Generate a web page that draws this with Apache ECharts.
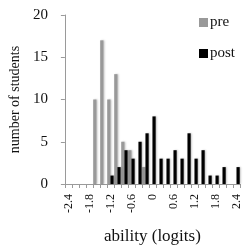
<!DOCTYPE html>
<html>
<head>
<meta charset="utf-8">
<script src="https://cdn.jsdelivr.net/npm/echarts@6/dist/echarts.min.js"></script>
<style>
html,body{margin:0;padding:0;background:#fff;}
#c{width:250px;height:250px;}
</style>
</head>
<body>
<div id="c"></div>
<script>
var categories = ['-2.4','-2.2','-2.0','-1.8','-1.6','-1.4','-1.2','-1.0','-0.8','-0.6','-0.4','-0.2','0','0.2','0.4','0.6','0.8','1.0','1.2','1.4','1.6','1.8','2.0','2.2','2.4'];
var tickLabels = ['-2.4','-1.8','-1.2','-0.6','0','0.6','1.2','1.8','2.4'];
var preValues  = [0,0,0,0,10,17,10,13,5,4,0,2,0,0,0,0,0,0,0,0,0,0,0,0,0];
var postValues = [0,0,0,0,0,0,1,2,4,3,5,6,8,3,3,4,3,6,3,4,1,1,2,0,2];
var seriesNames = ['pre','post'];

var font = 'Liberation Serif';
var chart = echarts.init(document.getElementById('c'), null, {renderer:'canvas'});
chart.setOption({
  animation:false,
  backgroundColor:'#fff',
  grid:{left:60, right:10, top:15, bottom:64, containLabel:false},
  legend:{
    orient:'vertical', left:194, top:10,
    itemWidth:9, itemHeight:9, itemGap:16,
    icon:'rect',
    textStyle:{fontFamily:font, fontSize:15, color:'#111', padding:[0,0,0,-3]},
    data:seriesNames
  },
  xAxis:{
    type:'category', data:categories,
    name:'ability (logits)', nameLocation:'middle', nameGap:44,
    nameTextStyle:{fontFamily:font, fontSize:17, color:'#111'},
    axisLine:{lineStyle:{color:'#9a9a9a', width:1}},
    axisTick:{show:true, length:4, interval:0, lineStyle:{color:'#9a9a9a'}},
    axisLabel:{
      rotate:90, margin:10, fontFamily:font, fontSize:12, color:'#111',
      interval:function(i, v){ return tickLabels.indexOf(v) >= 0; }
    }
  },
  yAxis:{
    type:'value', min:0, max:20, interval:5,
    name:'number of students', nameLocation:'middle', nameGap:38,
    nameTextStyle:{fontFamily:font, fontSize:14, color:'#111'},
    axisLine:{show:true, lineStyle:{color:'#9a9a9a', width:1}},
    axisTick:{show:true, length:4, lineStyle:{color:'#9a9a9a'}},
    splitLine:{show:false},
    axisLabel:{margin:17, fontFamily:font, fontSize:15, color:'#111'}
  },
  series:[
    {name:seriesNames[0], type:'bar', data:preValues, barGap:'0%', barCategoryGap:'8%',
     itemStyle:{color:'#999999', shadowColor:'rgba(0,0,0,0.25)', shadowBlur:2, shadowOffsetX:1}},
    {name:seriesNames[1], type:'bar', data:postValues, barGap:'0%', barCategoryGap:'8%',
     itemStyle:{color:'#000000', shadowColor:'rgba(0,0,0,0.25)', shadowBlur:2, shadowOffsetX:1}}
  ]
});
</script>
</body>
</html>
